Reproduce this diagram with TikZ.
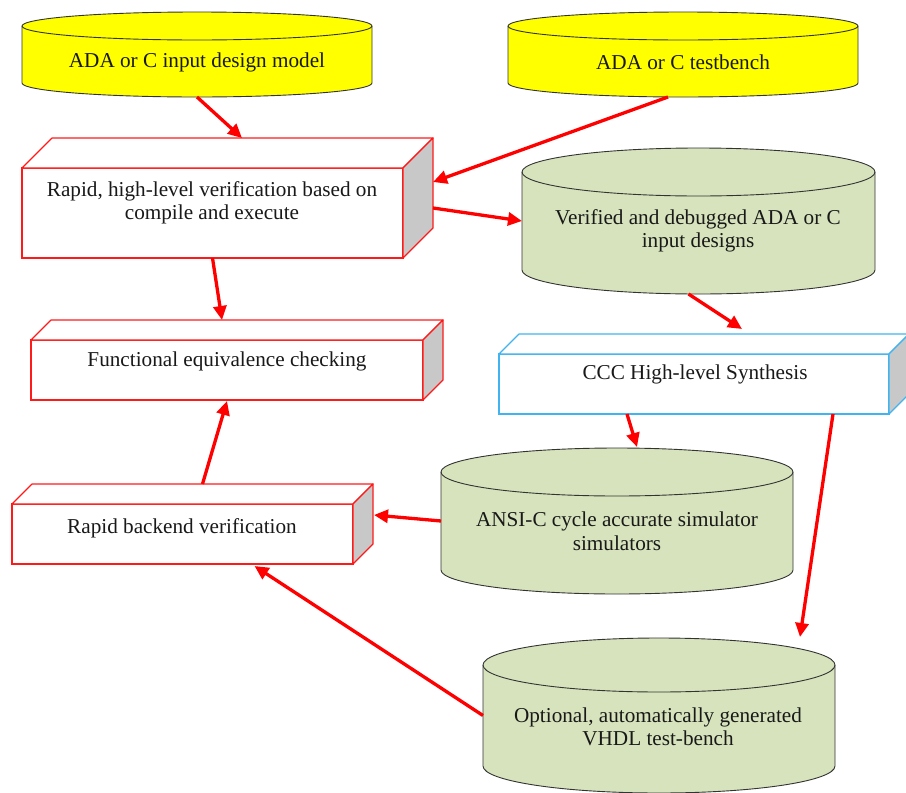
\documentclass[tikz,border=0pt]{standalone}
\usepackage{fontspec}
\setmainfont{Liberation Serif}
\usetikzlibrary{arrows.meta,calc}

\definecolor{dbyellow}{HTML}{FFFF00}
\definecolor{dbgreen}{HTML}{D6E3BC}
\definecolor{sidegray}{HTML}{C8C8C8}
\definecolor{edgered}{HTML}{FF1A1A}
\definecolor{edgeblue}{HTML}{40B4F0}
\definecolor{flowred}{HTML}{FF0000}

\tikzset{
  hold/.style={draw=none, inner sep=0pt, outer sep=0pt},
  cylline/.style={draw=black!80, line width=0.9pt},
  lbl/.style={font=\fontsize{21.2}{23.5}\selectfont, text=black!90, align=center, inner sep=0pt},
  flow/.style={draw=flowred, line width=3.3pt, -{Triangle[length=14pt,width=13pt]}},
}

% database cylinder: name, left, right, top-ellipse centre y, bottom-ellipse centre y, y radius, fill
\newcommand{\dbcyl}[7]{%
  \node[hold, anchor=north west, minimum width={#3-#2}, minimum height={#5-#4+2*#6}] (#1) at (#2,#4-#6) {};
  \draw[cylline, fill=#7] (#2,#4) -- (#2,#5)
    arc[start angle=180, end angle=0, x radius={(#3-#2)/2}, y radius=#6] -- (#3,#4)
    arc[start angle=0, end angle=-180, x radius={(#3-#2)/2}, y radius=#6] -- cycle;
  \draw[cylline] (#2,#4) arc[start angle=180, end angle=0, x radius={(#3-#2)/2}, y radius=#6];
}

% raised block: name, left, back-top y, front width, front height, depth, edge colour
\newcommand{\prism}[7]{%
  \node[hold, anchor=north west, minimum width={#4+#6}, minimum height={#5+#6}] (#1) at (#2,#3) {};
  \draw[draw=#7, line width=1.2pt, fill=white] (#2,#3+#6) rectangle ++(#4,#5);
  \draw[draw=#7, line width=1.2pt, fill=white, line join=round] (#2,#3+#6) -- ++(#6,-#6) -- ++(#4,0) -- ++(-#6,#6) -- cycle;
  \draw[draw=#7, line width=1.2pt, fill=sidegray, line join=round] (#2+#4,#3+#6) -- ++(#6,-#6) -- ++(0,#5) -- ++(-#6,#6) -- cycle;
}

\begin{document}
\begin{tikzpicture}[x=1pt, y=-1pt]
\useasboundingbox (0,0) rectangle (906,793);

% stores
\dbcyl{c1}{22}{372}{26}{83}{14}{dbyellow}
\dbcyl{c2}{508}{858}{26}{83}{14}{dbyellow}
\dbcyl{c3}{522}{875}{172}{270}{24}{dbgreen}
\dbcyl{c4}{441}{793}{472}{570}{24}{dbgreen}
\dbcyl{c5}{483}{835}{665}{766}{27}{dbgreen}

% processing steps
\prism{b1}{22}{138}{381}{90}{30}{edgered}
\prism{b2}{31}{320}{392}{60}{20}{edgered}
\prism{b3}{12}{484}{341}{60}{20}{edgered}
\prism{b4}{499}{334}{390}{60}{20}{edgeblue}

% labels
\node[lbl] (c1t) at (197,62) {ADA or C input design model};
\node[lbl] (c2t) at (683,62) {ADA or C testbench};
\node[lbl] (c3t) at (698,231) {Verified and debugged ADA or C\\input designs};
\node[lbl] (c4t) at (617,531) {ANSI-C cycle accurate simulator\\simulators};
\node[lbl] (c5t) at (658,727) {Optional, automatically generated\\VHDL test-bench};
\node[lbl] (b1t) at (212,203) {Rapid, high-level verification based on\\compile and execute};
\node[lbl] (b2t) at (227,361) {Functional equivalence checking};
\node[lbl] (b3t) at (182,528) {Rapid backend verification};
\node[lbl] (b4t) at (695,374) {CCC High-level Synthesis};

% flow
\draw[flow] (c1.south) -- ($(b1.north)+(14.5,0)$);
\draw[flow] ($(c2.south)+(-15,0)$) -- ($(b1.east)+(0,-16)$);
\draw[flow] ($(b1.east)+(0,10)$) -- (c3.west);
\draw[flow] ($(c3.south)+(-10,0)$) -- ($(b4.north)+(38,-5)$);
\draw[flow] ($(b1.south)+(-15,0)$) -- ($(b2.north)+(-15,0)$);
\draw[flow] ($(b3.north)+(10,0)$) -- ($(b2.south)+(-10,1)$);
\draw[flow] (c4.west) -- ($(b3.east)+(1,-9)$);
\draw[flow] ($(b4.south)+(-77,0)$) -- ($(c4.north)+(20,-1)$);
\draw[flow] ($(b4.south)+(129,0)$) -- ($(c5.north)+(141,-1)$);
\draw[flow] (c5.west) -- ($(b3.south)+(62,2)$);
\end{tikzpicture}
\end{document}
